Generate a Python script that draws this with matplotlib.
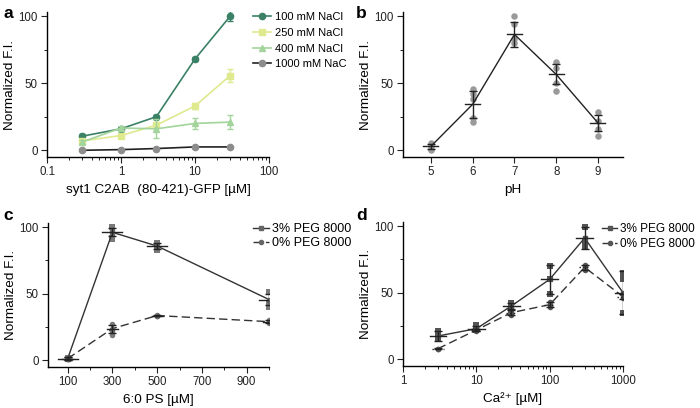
import numpy as np
import matplotlib
matplotlib.use("Agg")
import matplotlib.pyplot as plt
from matplotlib.ticker import FixedLocator, NullFormatter

plt.rcParams['font.family'] = ['Liberation Sans', 'DejaVu Sans']
plt.rcParams['font.size'] = 9.7
plt.rcParams['axes.linewidth'] = 1.0
plt.rcParams['xtick.major.size'] = 4
plt.rcParams['ytick.major.size'] = 4
plt.rcParams['xtick.minor.size'] = 2.5
plt.rcParams['ytick.minor.size'] = 2.5

# ---- panel a: NaCl series
conc_a = [0.3, 1, 3, 10, 30]
nacl_labels = ["100 mM NaCl", "250 mM NaCl", "400 mM NaCl", "1000 mM NaC"]
nacl_mean = [
    [10.5, 16, 25, 68, 100],
    [7, 11, 18.7, 33, 55.7],
    [6.2, 16.6, 16, 20, 21],
    [0, 0.5, 1.3, 2.5, 2.5],
]
nacl_err = [
    [1.5, 1.5, 1.5, 1.5, 4],
    [1.5, 1.5, 2, 2, 4.5],
    [1.5, 1.5, 7, 4, 5],
    [0.5, 0.5, 0.5, 0.5, 0.5],
]
nacl_colors = ["#3b8166", "#dfe98e", "#a3d49b", "#8c8c8c"]
nacl_lines = ["#3b8166", "#dfe98e", "#a3d49b", "#222222"]
nacl_markers = ["o", "s", "^", "o"]

# ---- panel b: pH
ph = [5, 6, 7, 8, 9]
ph_mean = [3, 34.3, 86.3, 56.5, 20.4]
ph_err = [2, 10, 9, 7.5, 6]
ph_points = [
    [5.5, 3, 1, 0],
    [46, 42, 38, 24, 21],
    [100, 94, 83, 80],
    [66, 61, 50, 44],
    [28.6, 22, 16, 10.4],
]

# ---- panel c: 6:0 PS
ps = [100, 300, 500, 1000]
peg3_c_mean = [1.3, 96, 85.7, 45.6]
peg3_c_err = [1, 3, 2, 4]
peg3_c_points = [[1.5, 1], [100, 92, 91], [88, 83], [51, 43, 40]]
peg0_c_mean = [1.3, 23.8, 33.6, 29]
peg0_c_err = [1, 3, 0.5, 1]
peg0_c_points = [[1.5, 1], [27, 22, 19], [34, 33.5], [30, 28]]

# ---- panel d: Ca2+
ca = [3, 10, 30, 100, 300, 1000]
peg3_d_mean = [17.5, 23, 40, 60, 91, 50]
peg3_d_err = [4, 2, 2, 11, 8, 16]
peg3_d_points = [[21, 18, 15], [26, 24, 22], [42, 40, 37], [70, 60, 49], [99, 88, 85], [65, 60, 35]]
peg0_d_mean = [8, 22, 35, 41, 69, 47]
peg0_d_err = [0.5, 1, 2, 2, 2, 2]
peg0_d_points = [[8], [23, 22, 21], [37, 35, 33], [43, 41, 39], [71, 70, 67], [48, 46]]

W, H = 700, 408
fig = plt.figure(figsize=(W / 100, H / 100), dpi=100)


def add_ax(left, right, top, bottom):
    return fig.add_axes([left / W, 1 - bottom / H, (right - left) / W, (bottom - top) / H])


def style(ax):
    ax.spines['top'].set_visible(False)
    ax.spines['right'].set_visible(False)
    ax.set_ylim(-5, 103)
    ax.yaxis.set_major_locator(FixedLocator([0, 50, 100]))
    ax.yaxis.set_minor_locator(FixedLocator([25, 75]))
    ax.set_ylabel("Normalized F.I.", labelpad=2)
    ax.tick_params(colors='#222222', labelsize=8.3, pad=2.5)


def mean_bars(ax, x, mean, err, width, logx=False, color='#222222', ls='-'):
    for xi, m, e in zip(x, mean, err):
        if logx:
            x0, x1 = xi / width, xi * width
        else:
            x0, x1 = xi - width, xi + width
        ax.plot([x0, x1], [m, m], color=color, lw=1.0, ls=ls, zorder=4)
    ax.errorbar(x, mean, yerr=err, fmt='none', ecolor=color, elinewidth=1.0,
                capsize=3, capthick=1.0, zorder=4)


def legend(ax, x0, y0, size, spacing, hlen, hpad):
    ax.legend(loc='upper left', bbox_to_anchor=(x0, y0), frameon=False, fontsize=size,
              handlelength=hlen, borderaxespad=0.0, borderpad=0.0,
              labelspacing=spacing, handletextpad=hpad)


# ---------------- a
ax = add_ax(47, 269, 12, 157)
for i in range(4):
    ax.errorbar(conc_a, nacl_mean[i], yerr=nacl_err[i], fmt='none',
                ecolor=nacl_colors[i], elinewidth=1.0, capsize=2)
    ax.plot(conc_a, nacl_mean[i], color=nacl_lines[i], mfc=nacl_colors[i],
            mec=nacl_colors[i], marker=nacl_markers[i], ms=4.5, lw=1.2,
            label=nacl_labels[i])
ax.set_xscale('log')
ax.set_xlim(0.1, 100)
ax.set_xticks([0.1, 1, 10, 100])
ax.set_xticklabels(["0.1", "1", "10", "100"])
ax.xaxis.set_minor_formatter(NullFormatter())
style(ax)
ax.set_xlabel("syt1 C2AB  (80-421)-GFP [µM]")
legend(ax, 0.928, 1.0, 8, 0.52, 1.6, 0.4)

# ---------------- b
ax = add_ax(403, 623, 12, 157)
for xi, pts in zip(ph, ph_points):
    ax.scatter([xi] * len(pts), pts, s=22, color='#9a9a9a', zorder=2, lw=0)
ax.plot(ph, ph_mean, color='#222222', lw=1.0, zorder=3)
mean_bars(ax, ph, ph_mean, ph_err, 0.18)
ax.set_xlim(4.33, 9.6)
ax.set_xticks(ph)
style(ax)
ax.set_xlabel("pH")

# ---------------- c
ax = add_ax(48, 269, 223, 367)
for xi, pts in zip(ps, peg3_c_points):
    ax.scatter([xi] * len(pts), pts, s=16, marker='s', color='#7a7a7a', zorder=2, lw=0)
for xi, pts in zip(ps, peg0_c_points):
    ax.scatter([xi] * len(pts), pts, s=16, marker='o', color='#7a7a7a', zorder=2, lw=0)
ax.plot(ps, peg3_c_mean, color='#333333', lw=1.0, marker='s', ms=3, mfc='#666666',
        mec='#666666', label="3% PEG 8000", zorder=3)
ax.plot(ps, peg0_c_mean, color='#333333', lw=1.0, ls=(0, (6, 3)), marker='o', ms=3,
        mfc='#666666', mec='#666666', label="0% PEG 8000", zorder=3)
mean_bars(ax, ps, peg3_c_mean, peg3_c_err, 45)
mean_bars(ax, ps, peg0_c_mean, peg0_c_err, 25)
ax.set_xlim(12, 1000)
ax.set_xticks([100, 300, 500, 700, 900])
ax.xaxis.set_minor_locator(FixedLocator([200, 400, 600, 800, 1000]))
style(ax)
ax.set_xlabel("6:0 PS [µM]")
legend(ax, 0.928, 1.0, 9, 0.2, 1.3, 0.25)

# ---------------- d
ax = add_ax(403, 623, 222, 366)
for xi, pts in zip(ca, peg3_d_points):
    ax.scatter([xi] * len(pts), pts, s=16, marker='s', color='#555555', zorder=2, lw=0)
for xi, pts in zip(ca, peg0_d_points):
    ax.scatter([xi] * len(pts), pts, s=16, marker='o', color='#555555', zorder=2, lw=0)
ax.plot(ca, peg3_d_mean, color='#333333', lw=1.0, marker='s', ms=3, mfc='#555555',
        mec='#555555', label="3% PEG 8000", zorder=3)
ax.plot(ca, peg0_d_mean, color='#333333', lw=1.0, ls=(0, (6, 3)), marker='o', ms=3,
        mfc='#555555', mec='#555555', label="0% PEG 8000", zorder=3)
mean_bars(ax, ca, peg3_d_mean, peg3_d_err, 1.3, logx=True)
mean_bars(ax, ca, peg0_d_mean, peg0_d_err, 1.2, logx=True, ls=':')
ax.set_xscale('log')
ax.set_xlim(1, 1000)
ax.set_xticks([1, 10, 100, 1000])
ax.set_xticklabels(["1", "10", "100", "1000"])
ax.xaxis.set_minor_formatter(NullFormatter())
style(ax)
ax.set_xlabel("Ca²⁺ [µM]")
legend(ax, 0.905, 0.995, 8.5, 0.25, 1.3, 0.25)

# panel letters
for lbl, x, y in [("a", 3, 14), ("b", 356, 14), ("c", 3, 216), ("d", 356, 216)]:
    fig.text(x / W, 1 - y / H, lbl, fontsize=12.5, fontweight='bold', va='center', ha='left')

fig.savefig("out.png", dpi=100)
